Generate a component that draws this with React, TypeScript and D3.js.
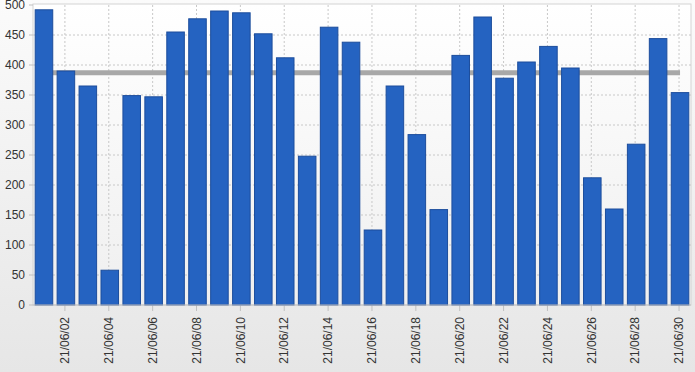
import React from "react";
import * as d3 from "d3";

const days = d3.range(1, 31).map((d) => `21/06/${String(d).padStart(2, "0")}`);
const values = [
  492, 390, 365, 58, 349, 347, 455, 477, 490, 487,
  452, 412, 248, 463, 438, 125, 365, 284, 159, 416,
  480, 378, 405, 431, 395, 212, 160, 268, 444, 354,
];
const targetValue = 387;
const yTicks = [0, 50, 100, 150, 200, 250, 300, 350, 400, 450, 500];

const W = 695;
const H = 372;
const M = { left: 33, right: 4, top: 5, bottom: 67 };

export default function App() {
  const x = d3.scaleBand<string>().domain(days).range([M.left, W - M.right]).paddingInner(0.2).paddingOuter(0.1);
  const y = d3.scaleLinear().domain([0, 500]).range([H - M.bottom, M.top]);
  const x0 = M.left;
  const x1 = W - M.right;
  const step = x.step();
  const tickDays = days.filter((_, i) => i % 2 === 1);
  const cx = (d: string) => (x(d) as number) + x.bandwidth() / 2;
  const line = d3
    .line<number>()
    .x((_, i) => cx(days[i]))
    .y(() => y(targetValue));
  const font = "'Liberation Sans', Arial, sans-serif";
  return (
    <svg width={W} height={H} style={{ position: "fixed", left: 0, top: 0 }} fontFamily={font}>
      <defs>
        <linearGradient id="bg" x1="0" y1="0" x2="0" y2="1">
          <stop offset="0" stopColor="#fbfbfb" />
          <stop offset="1" stopColor="#e6e6e6" />
        </linearGradient>
        <linearGradient id="pl" x1="0" y1="0" x2="0" y2="1">
          <stop offset="0" stopColor="#ffffff" />
          <stop offset="1" stopColor="#efefef" />
        </linearGradient>
      </defs>
      <rect x={0} y={0} width={W} height={H} fill="url(#bg)" />
      <rect x={x0} y={y(500) - 1} width={x1 - x0} height={y(0) - y(500) + 1} fill="url(#pl)" stroke="#d4d4d4" strokeWidth={1} />
      {yTicks.map((t) => (
        <g key={t}>
          {t > 0 && t < 500 && (
            <line x1={x0} x2={x1} y1={y(t)} y2={y(t)} stroke="#c8c8c8" strokeDasharray="2,2" />
          )}
          <line x1={x0 - 4} x2={x0} y1={y(t)} y2={y(t)} stroke="#c0c0c0" />
          <text x={x0 - 8} y={y(t)} dy="0.35em" textAnchor="end" fontSize={12} fill="#333">
            {t}
          </text>
        </g>
      ))}
      {tickDays.map((d) => (
        <g key={d}>
          <line x1={cx(d) - 1} x2={cx(d) - 1} y1={M.top} y2={y(0)} stroke="#c8c8c8" strokeDasharray="2,2" />
          <line x1={cx(d) - 1} x2={cx(d) - 1} y1={y(0)} y2={y(0) + 6} stroke="#c0c0c0" />
          <text
            transform={`translate(${cx(d) - 1},${y(0) + 12}) rotate(-90)`}
            textAnchor="end"
            dy="0.35em"
            fontSize={12}
            fill="#333"
          >
            {d}
          </text>
        </g>
      ))}
      <path d={line(values) || ""} fill="none" stroke="#a8a8a8" strokeWidth={5} />
      {values.map((v, i) => (
        <rect
          key={i}
          x={x(days[i])}
          y={y(v)}
          width={x.bandwidth()}
          height={y(0) - y(v)}
          fill="#2563c1"
          stroke="#1c4d9c"
          strokeWidth={1}
        />
      ))}
      <line x1={x0} x2={x1} y1={y(0)} y2={y(0)} stroke="#c0c0c0" />
    </svg>
  );
}
